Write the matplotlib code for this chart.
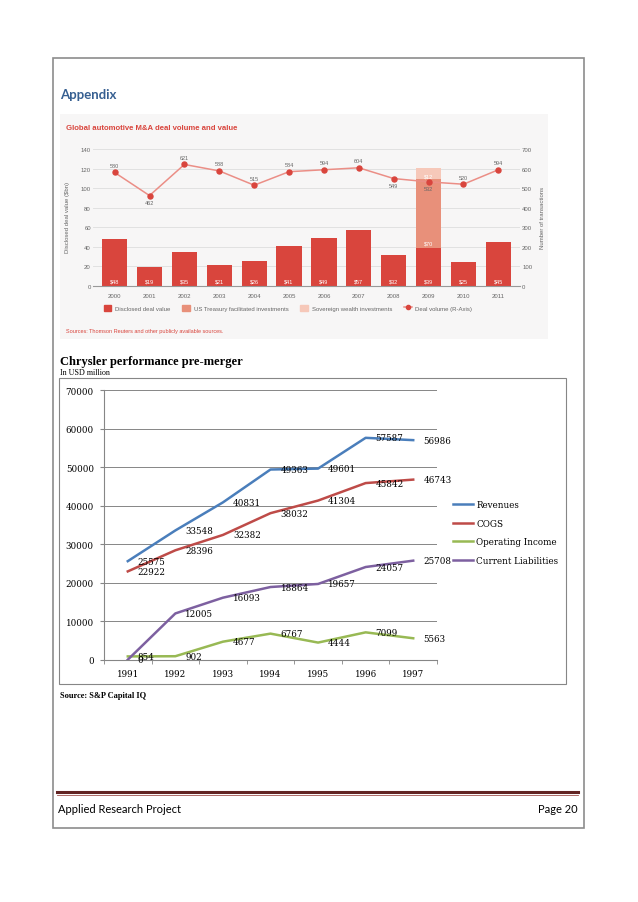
import matplotlib
matplotlib.use("Agg")
import matplotlib.pyplot as plt
from matplotlib.patches import Rectangle, Patch
from matplotlib.lines import Line2D

W, H = 638, 903

# top chart: global automotive M&A
years = ["2000", "2001", "2002", "2003", "2004", "2005",
         "2006", "2007", "2008", "2009", "2010", "2011"]
disclosed = [48, 19, 35, 21, 26, 41, 49, 57, 32, 39, 25, 45]
treasury = [0, 0, 0, 0, 0, 0, 0, 0, 0, 70, 0, 0]
sovereign = [0, 0, 0, 0, 0, 0, 0, 0, 0, 12, 0, 0]
volume = [580, 462, 621, 588, 515, 584, 594, 604, 549, 532, 520, 594]

# bottom chart: Chrysler
cy_years = ["1991", "1992", "1993", "1994", "1995", "1996", "1997"]
revenues = [25575, 33548, 40831, 49363, 49601, 57587, 56986]
cogs = [22922, 28396, 32382, 38032, 41304, 45842, 46743]
op_income = [854, 902, 4677, 6767, 4444, 7099, 5563]
cur_liab = [0, 12005, 16093, 18864, 19657, 24057, 25708]


def box(l, t, r, b):
    return [l / W, 1 - b / H, (r - l) / W, (b - t) / H]


def fx(x):
    return x / W


def fy(y):
    return 1 - y / H


fig = plt.figure(figsize=(W / 100, H / 100), dpi=100)
fig.patch.set_facecolor("white")

# page frame
fig.patches.append(Rectangle((fx(53), fy(829)), (584 - 53) / W, (829 - 59) / H,
                             transform=fig.transFigure, fill=False,
                             edgecolor="#8c8c8c", lw=1.2))

fig.text(fx(60), fy(95), "Appendix", family="Lato", weight="bold",
         fontsize=9.5, color="#365F91", va="center")

# ---- top chart (picture of M&A deals) ----
fig.patches.append(Rectangle((fx(60), fy(340)), (548 - 60) / W, (340 - 115) / H,
                             transform=fig.transFigure, facecolor="#f7f6f6",
                             edgecolor="none", zorder=-5))
fig.text(fx(66), fy(129), "Global automotive M&A deal volume and value",
         family="Liberation Sans", weight="bold", fontsize=5.6,
         color="#d9453d", va="center")

red = "#d9453d"
mid = "#e8907a"
pale = "#f6c8b9"
grey = "#666666"

ax1 = fig.add_axes(box(93, 150, 520, 287))
ax1.patch.set_alpha(0)
x = list(range(len(years)))
b1 = [d + t for d, t in zip(disclosed, treasury)]
ax1.bar(x, disclosed, width=0.72, color=red, zorder=2)
ax1.bar(x, treasury, width=0.72, bottom=disclosed, color=mid, zorder=2)
ax1.bar(x, sovereign, width=0.72, bottom=b1, color=pale, zorder=2)
for i in x:
    ax1.text(i, 5, "$%d" % disclosed[i], ha="center", va="center",
             fontsize=4, color="white", family="Liberation Sans", zorder=3)
    if treasury[i]:
        ax1.text(i, disclosed[i] + 5, "$%d" % treasury[i], ha="center",
                 va="center", fontsize=4, color="white", family="Liberation Sans", zorder=3)
    if sovereign[i]:
        ax1.text(i, b1[i] + 3, "$%d" % sovereign[i], ha="center",
                 va="center", fontsize=4, color="white", family="Liberation Sans", zorder=3)
ax1.set_xlim(-0.62, 11.62)
ax1.set_ylim(0, 140)
ax1.set_yticks(range(0, 141, 20))
ax1.set_xticks(x)
ax1.set_xticklabels(years)
ax1.yaxis.grid(True, color="#dddddd", lw=0.6, zorder=0)
ax1.set_axisbelow(True)
for s in ["top", "right", "left"]:
    ax1.spines[s].set_visible(False)
ax1.spines["bottom"].set_color("#999999")
ax1.spines["bottom"].set_linewidth(0.8)
ax1.tick_params(length=0, labelsize=4.3, labelcolor=grey)
ax1.tick_params(axis="x", pad=5.4)
ax1.tick_params(axis="y", pad=1.5)
for lab in ax1.get_xticklabels() + ax1.get_yticklabels():
    lab.set_family("Liberation Sans")

ax2 = ax1.twinx()
ax2.set_ylim(0, 700)
ax2.set_yticks(range(0, 701, 100))
ax2.plot(x, volume, color="#eb8e86", lw=1.1, marker="o", ms=3.6,
         mfc=red, mec=red, zorder=4)
below = {1, 8, 9}
for i, v in enumerate(volume):
    dy = -5 if i in below else 5
    ax2.annotate(str(v), (i, v), xytext=(0, dy), textcoords="offset points",
                 ha="center", va="center", fontsize=4, color=grey,
                 family="Liberation Sans")
for s in ax2.spines.values():
    s.set_visible(False)
ax2.tick_params(length=0, labelsize=4.3, labelcolor=grey, pad=1.5)
for lab in ax2.get_yticklabels():
    lab.set_family("Liberation Sans")

fig.text(fx(68), fy(218), "Disclosed deal value ($bn)", rotation=90,
         ha="center", va="center", fontsize=4.3, color=grey, family="Liberation Sans")
fig.text(fx(542), fy(218), "Number of transactions", rotation=90,
         ha="center", va="center", fontsize=4.3, color=grey, family="Liberation Sans")

handles = [Patch(color=red), Patch(color=mid), Patch(color=pale),
           Line2D([], [], color="#eb8e86", lw=1.1, marker="o", ms=3, mfc=red, mec=red)]
labels = ["Disclosed deal value", "US Treasury facilitated investments",
          "Sovereign wealth investments", "Deal volume (R-Axis)"]
fig.legend(handles, labels, loc="center", bbox_to_anchor=(fx(288), fy(309)),
           ncol=4, frameon=False, prop={"family": "Liberation Sans", "size": 4.3},
           handlelength=1.3, handleheight=1.3, handletextpad=0.6,
           columnspacing=2.0, labelcolor=grey)
fig.text(fx(66), fy(332), "Sources: Thomson Reuters and other publicly available sources.",
         fontsize=4, color=red, va="center", family="Liberation Sans")

# ---- bottom chart ----
fig.text(fx(60), fy(362), "Chrysler performance pre-merger", family="Liberation Serif",
         weight="bold", fontsize=9, va="center")
fig.text(fx(60), fy(373), "In USD million", family="Liberation Serif",
         fontsize=5.8, va="center")
fig.patches.append(Rectangle((fx(59), fy(685)), (566 - 59) / W, (685 - 379) / H,
                             transform=fig.transFigure, fill=False,
                             edgecolor="#868686", lw=0.8))

ax3 = fig.add_axes(box(104, 391, 437, 660.7))
series = [("Revenues", revenues, "#4a7ebb"),
          ("COGS", cogs, "#be4b48"),
          ("Operating Income", op_income, "#98b954"),
          ("Current Liabilities", cur_liab, "#7d60a0")]
cx = list(range(len(cy_years)))
for name, vals, col in series:
    ax3.plot(cx, vals, color=col, lw=1.8, label=name, zorder=3)
    for i, v in zip(cx, vals):
        ax3.annotate(str(v), (i, v), xytext=(7.2, 0), textcoords="offset points",
                     ha="left", va="center", fontsize=6.3, family="DejaVu Serif",
                     zorder=4)
ax3.set_xlim(-0.5, 6.5)
ax3.set_ylim(0, 70000)
ax3.set_yticks(range(0, 70001, 10000))
ax3.set_xticks(cx)
ax3.set_xticklabels(cy_years)
ax3.set_xticks([i - 0.5 for i in range(8)], minor=True)
ax3.yaxis.grid(True, color="#868686", lw=0.7)
ax3.set_axisbelow(True)
ax3.spines["top"].set_visible(False)
ax3.spines["right"].set_visible(False)
ax3.spines["left"].set_color("#868686")
ax3.spines["bottom"].set_color("#868686")
ax3.tick_params(axis="x", which="major", length=0, pad=6.4)
ax3.tick_params(axis="x", which="minor", length=3, color="#868686")
ax3.tick_params(axis="y", length=3, color="#868686", pad=4.3)
ax3.tick_params(labelsize=6.3)
for lab in ax3.get_xticklabels() + ax3.get_yticklabels():
    lab.set_family("DejaVu Serif")

ax3.legend(loc="center left", bbox_to_anchor=(fx(453), fy(533.5)),
           bbox_transform=fig.transFigure, frameon=False, borderpad=0,
           borderaxespad=0, prop={"family": "DejaVu Serif", "size": 6.3},
           handlelength=2.3, handletextpad=0.35, labelspacing=1.1)

fig.text(fx(60), fy(696), "Source: S&P Capital IQ", family="Liberation Serif",
         weight="bold", fontsize=6, va="center")

# ---- footer ----
fig.add_artist(Line2D([fx(57), fx(578)], [fy(793), fy(793)], color="#622423", lw=2.2))
fig.add_artist(Line2D([fx(57), fx(578)], [fy(796), fy(796)], color="#a0524f", lw=0.6))
fig.text(fx(58), fy(810), "Applied Research Project", family="Lato", fontsize=8,
         va="center")
fig.text(fx(578), fy(810), "Page 20", family="Lato", fontsize=8, va="center", ha="right")

fig.savefig("out.png", dpi=100)
